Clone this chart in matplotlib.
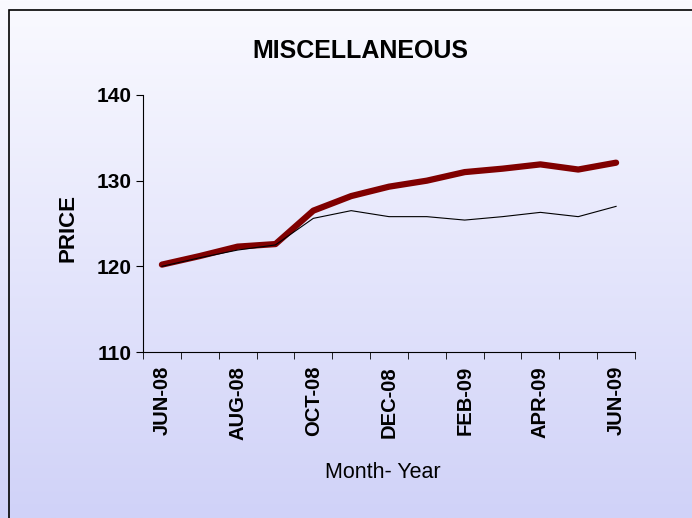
import numpy as np
import matplotlib.pyplot as plt
from matplotlib.patches import Rectangle

months = ["JUN-08", "JUL-08", "AUG-08", "SEP-08", "OCT-08", "NOV-08", "DEC-08",
          "JAN-09", "FEB-09", "MAR-09", "APR-09", "MAY-09", "JUN-09"]
price_thick = [120.2, 121.2, 122.3, 122.6, 126.5, 128.2, 129.3,
               130.0, 131.0, 131.4, 131.9, 131.3, 132.1]
price_thin = [120.0, 121.0, 121.9, 122.5, 125.6, 126.5, 125.8,
              125.8, 125.4, 125.8, 126.3, 125.8, 127.0]

plt.rcParams['font.family'] = ['Liberation Sans', 'DejaVu Sans']

W, H = 692, 518
fig = plt.figure(figsize=(W / 100, H / 100), dpi=100)

# gradient background
bg = fig.add_axes([0, 0, 1, 1], zorder=-10)
top = np.array([250, 250, 255]) / 255
bot = np.array([208, 210, 248]) / 255
t = np.linspace(0, 1, 256)[:, None]
grad = top[None, :] * (1 - t) + bot[None, :] * t
bg.imshow(grad[:, None, :], aspect='auto', extent=[0, 1, 0, 1])
bg.axis('off')

# chart border (runs off the right and bottom edges)
fig.patches.append(Rectangle((9 / W, -0.05), 1.1, 1 - 10 / H + 0.05,
                             transform=fig.transFigure, fill=False,
                             edgecolor='black', linewidth=1.2))

ax = fig.add_axes([143 / W, 1 - 352 / H, (635 - 143) / W, (352 - 95) / H])
ax.patch.set_alpha(0)

x = np.arange(len(months))
ax.plot(x, price_thin, color='black', linewidth=0.8, zorder=3)
ax.plot(x, price_thick, color='#800000', linewidth=4.5, solid_capstyle='round', zorder=2)

ax.set_xlim(-0.5, len(months) - 0.5)
ax.set_ylim(110, 140)
ax.set_yticks([110, 120, 130, 140])
ax.set_xticks(x[::2])
ax.set_xticklabels(months[::2], rotation=90, fontsize=14.5, fontweight='bold')
ax.set_xticks(np.arange(len(months) + 1) - 0.5, minor=True)
ax.tick_params(axis='x', which='major', length=0, pad=10)
ax.tick_params(axis='x', which='minor', length=5, direction='out')
ax.tick_params(axis='y', length=5, direction='out', labelsize=15, pad=3)
for lab in ax.get_yticklabels():
    lab.set_fontweight('bold')

for s in ['top', 'right']:
    ax.spines[s].set_visible(False)

fig.text(360 / W, 1 - 58 / H, "MISCELLANEOUS", fontsize=18, fontweight='bold',
         ha='center', va='baseline')
fig.text(68 / W, 1 - 227.5 / H, "PRICE", fontsize=16, fontweight='bold',
         rotation=90, ha='center', va='center')
fig.text(383 / W, 1 - 478 / H, "Month- Year", fontsize=15.5,
         ha='center', va='baseline')

fig.savefig("out.png", dpi=100)
